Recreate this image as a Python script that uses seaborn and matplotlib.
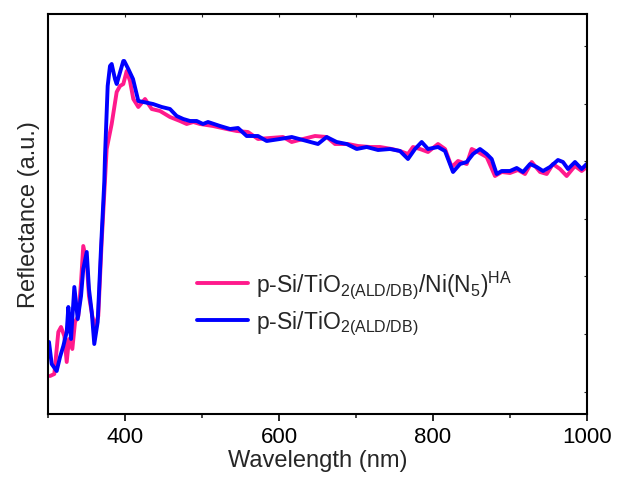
import numpy as np
import pandas as pd
import matplotlib
matplotlib.use("Agg")
import matplotlib.pyplot as plt
import seaborn as sns

# Wavelengths (nm) and reflectance (a.u.)
wl_ni = [302.6, 308.2, 313.4, 316.9, 321.2, 324.3, 327.3, 331.6, 335.1, 339.4,
         342.9, 345.8, 350.3, 353.2, 357.5, 361.0, 365.3, 369.7, 376.2, 382.7,
         389.2, 393.5, 397.8, 402.2, 406.5, 410.8, 417.3, 426.0, 434.7, 445.5,
         458.4, 471.4, 480.1, 488.7, 497.4, 514.3, 532.1, 545.1, 559.7, 572.7,
         588.3, 605.2, 616.5, 631.2, 646.8, 661.9, 672.7, 689.6, 702.6, 718.2,
         731.2, 746.4, 757.1, 767.5, 774.0, 783.1, 793.5, 806.5, 815.6, 824.3,
         832.5, 843.8, 850.3, 858.4, 869.7, 880.5, 889.2, 900.0, 910.4, 919.5,
         928.2, 939.0, 947.7, 955.8, 964.9, 973.6, 984.4, 993.1, 999.6]
r_ni = [38, 40, 82, 87, 78, 52, 75, 65, 92, 98,
        132, 168, 152, 118, 98, 87, 98, 172, 265, 290,
        322, 328, 330, 343, 333, 315, 307, 315, 305, 303,
        297, 293, 290, 292, 290, 288, 285, 283, 282, 275,
        276, 277, 272, 275, 278, 277, 270, 270, 268, 267,
        267, 265, 263, 260, 267, 265, 262, 270, 265, 247,
        253, 250, 265, 262, 257, 238, 242, 241, 244, 240,
        252, 242, 240, 250, 245, 238, 248, 243, 247]

wl_ti = [301.3, 304.8, 311.3, 315.6, 319.9, 324.3, 326.4, 329.9, 334.2, 338.6,
         342.9, 345.8, 350.3, 353.2, 356.8, 360.1, 364.5, 368.8, 373.1, 374.0,
         377.5, 380.5, 382.7, 387.0, 389.2, 394.8, 397.8, 399.0, 404.3, 410.4,
         417.3, 423.8, 436.4, 447.7, 458.4, 467.1, 475.7, 484.4, 493.1, 501.3,
         507.8, 523.4, 536.4, 546.8, 558.0, 572.7, 584.0, 601.3, 616.5, 636.0,
         650.6, 661.9, 674.9, 687.9, 700.9, 713.9, 728.6, 744.2, 757.1, 767.5,
         776.6, 785.3, 793.5, 806.5, 815.6, 826.0, 835.1, 843.8, 852.0, 861.0,
         869.7, 876.2, 882.7, 889.2, 900.0, 908.7, 916.9, 926.0, 934.7, 942.9,
         951.9, 962.3, 968.8, 975.3, 984.4, 993.1, 999.6]
r_ti = [72, 50, 43, 57, 68, 82, 107, 75, 127, 95,
        118, 145, 162, 125, 102, 70, 92, 165, 232, 257,
        328, 348, 350, 335, 330, 345, 353, 353, 345, 335,
        313, 312, 310, 307, 305, 298, 295, 293, 293, 290,
        292, 288, 285, 286, 278, 278, 273, 275, 277, 273,
        270, 277, 272, 270, 265, 267, 264, 265, 263, 255,
        265, 272, 265, 267, 263, 242, 250, 252, 260, 265,
        260, 255, 240, 243, 243, 246, 242, 250, 247, 243,
        247, 254, 252, 245, 252, 245, 250]

labels = [r'p-Si/TiO$_{\mathregular{2(ALD/DB)}}$/Ni(N$_{\mathregular{5}}$)$^{\mathregular{HA}}$',
          r'p-Si/TiO$_{\mathregular{2(ALD/DB)}}$']
colors = ['#FF1A8C', '#0000FF']
xticks_major = [400, 600, 800, 1000]

df = pd.concat([
    pd.DataFrame({'wl': wl_ni, 'r': r_ni, 'sample': labels[0]}),
    pd.DataFrame({'wl': wl_ti, 'r': r_ti, 'sample': labels[1]}),
], ignore_index=True)

sns.set_theme(style='ticks')
plt.rcParams['font.family'] = ['Liberation Sans', 'DejaVu Sans']
plt.rcParams['mathtext.fontset'] = 'custom'
plt.rcParams['mathtext.rm'] = 'Liberation Sans'
plt.rcParams['mathtext.it'] = 'Liberation Sans'

fig = plt.figure(figsize=(6.18, 4.85), dpi=100)
ax = fig.add_axes([48/618, 70/485, 539/618, 400/485])

sns.lineplot(data=df, x='wl', y='r', hue='sample', palette=colors,
             hue_order=labels, estimator=None, sort=False, lw=2.8, ax=ax)

ax.set_xlim(300, 1000)
ax.set_ylim(0, 400)
ax.set_xticks(xticks_major)
ax.set_xticks([300, 500, 700, 900], minor=True)
ax.tick_params(axis='x', which='major', direction='out', length=5, width=1.2,
               labelsize=16, colors='black', pad=4)
ax.tick_params(axis='x', which='minor', direction='out', length=3, width=1.2)
ax.set_yticks([])
ax.set_xlabel('Wavelength (nm)', fontsize=17, labelpad=1)
ax.set_ylabel('Reflectance (a.u.)', fontsize=17, labelpad=6)
for s in ax.spines.values():
    s.set_linewidth(1.5)
    s.set_color('black')

sec = ax.secondary_xaxis('top')
sec.set_xticks([400, 500, 600, 700, 800, 900])
sec.tick_params(direction='in', length=2, width=0.8, labelsize=0)
sec.set_xticklabels([])
sec.spines['top'].set_visible(False)
secy = ax.secondary_yaxis('right')
secy.set_yticks([22, 80, 138, 195, 253, 310, 368])
secy.tick_params(direction='in', length=2, width=0.8)
secy.set_yticklabels([])
secy.spines['right'].set_visible(False)

h, l = ax.get_legend_handles_labels()
ax.legend(h, labels, loc='upper left', bbox_to_anchor=(0.239, 0.415),
          frameon=False, fontsize=16.5, handlelength=2.2, handletextpad=0.35,
          labelspacing=0.35)

fig.savefig('out.png', dpi=100)
